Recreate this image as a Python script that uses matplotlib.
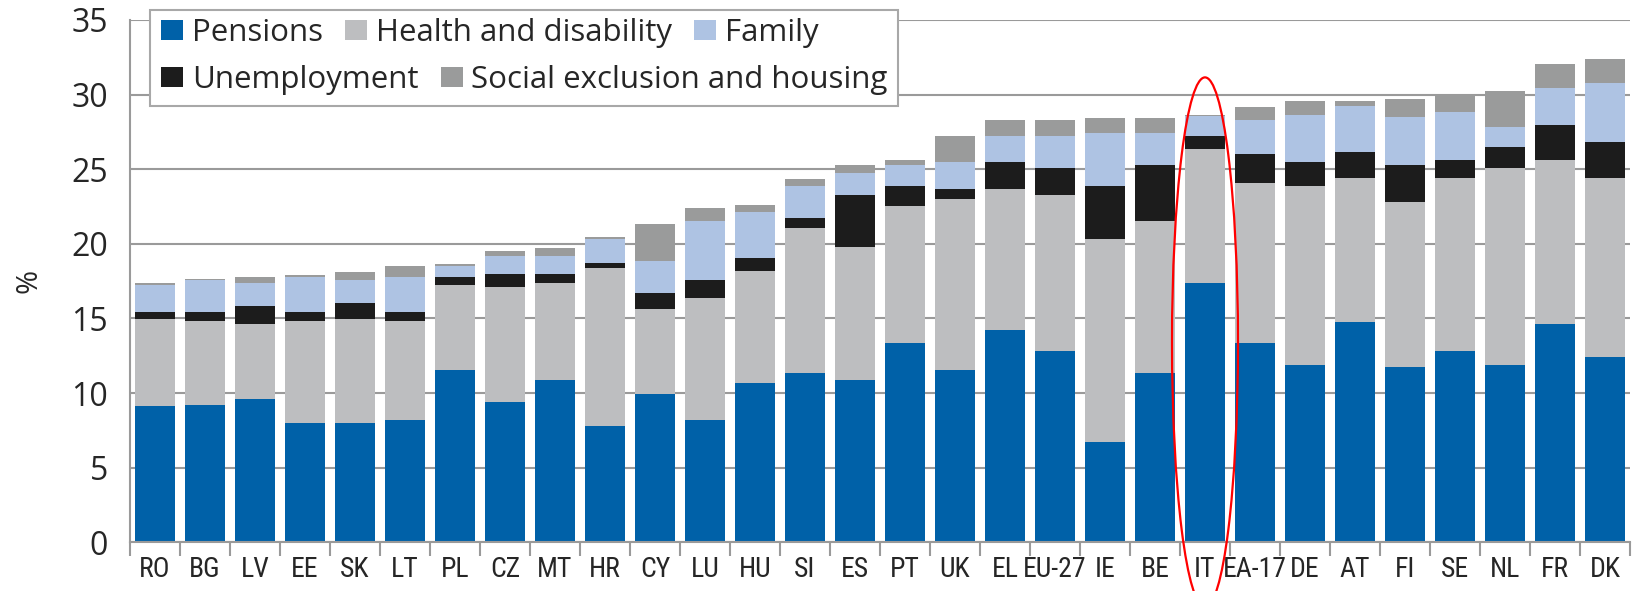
import numpy as np
import matplotlib
matplotlib.use("Agg")
import matplotlib.pyplot as plt
import matplotlib.patches as mpatches
from matplotlib import font_manager as fm

# ---- data (% of GDP) ----
countries = ["RO", "BG", "LV", "EE", "SK", "LT", "PL", "CZ", "MT", "HR",
             "CY", "LU", "HU", "SI", "ES", "PT", "UK", "EL", "EU-27", "IE",
             "BE", "IT", "EA-17", "DE", "AT", "FI", "SE", "NL", "FR", "DK"]

pensions     = [9.1, 9.2, 9.6, 8.0, 8.0, 8.2, 11.55, 9.4, 10.85, 7.8,
                9.95, 8.2, 10.65, 11.35, 10.85, 13.35, 11.55, 14.2, 12.8, 6.75,
                11.35, 17.4, 13.35, 11.9, 14.75, 11.75, 12.8, 11.9, 14.6, 12.4]
health       = [5.85, 5.6, 5.0, 6.8, 6.95, 6.6, 5.7, 7.7, 6.55, 10.55,
                5.7, 8.15, 7.55, 9.7, 8.95, 9.15, 11.45, 9.5, 10.5, 13.55,
                10.2, 8.95, 10.7, 11.95, 9.65, 11.05, 11.6, 13.2, 11.0, 12.0]
unemployment = [0.5, 0.65, 1.2, 0.65, 1.05, 0.65, 0.5, 0.85, 0.55, 0.35,
                1.05, 1.25, 0.85, 0.65, 3.5, 1.35, 0.7, 1.75, 1.8, 3.55,
                3.7, 0.85, 1.95, 1.6, 1.75, 2.45, 1.2, 1.4, 2.35, 2.45]
family       = [1.8, 2.1, 1.6, 2.3, 1.6, 2.3, 0.75, 1.25, 1.25, 1.6,
                2.15, 3.95, 3.05, 2.15, 1.45, 1.45, 1.75, 1.75, 2.1, 3.55,
                2.15, 1.35, 2.3, 3.2, 3.05, 3.25, 3.25, 1.3, 2.5, 3.95]
social       = [0.15, 0.1, 0.35, 0.15, 0.5, 0.75, 0.15, 0.35, 0.55, 0.15,
                2.5, 0.85, 0.5, 0.5, 0.5, 0.3, 1.75, 1.1, 1.1, 1.05,
                1.05, 0.1, 0.85, 0.9, 0.35, 1.2, 1.15, 2.45, 1.6, 1.6]

series = [
    ("Pensions", pensions, "#0061a8"),
    ("Health and disability", health, "#bdbec0"),
    ("Unemployment", unemployment, "#1c1c1c"),
    ("Family", family, "#aec3e3"),
    ("Social exclusion and housing", social, "#9a9b9b"),
]

plt.rcParams["font.family"] = ["Open Sans", "DejaVu Sans"]
TXT = "#262626"
GRID = "#9a9a9a"

# narrow font for the country codes, whichever is installed
names = {f.name for f in fm.fontManager.ttflist}
if "Roboto Condensed" in names:
    xlab_font = dict(family="Roboto Condensed", fontsize=20)
elif "Liberation Sans Narrow" in names:
    xlab_font = dict(family="Liberation Sans Narrow", fontsize=20)
elif "Roboto" in names:
    xlab_font = dict(family="Roboto", fontsize=17)
else:
    xlab_font = dict(family="Liberation Sans", fontsize=16)

fig = plt.figure(figsize=(16.36, 5.91), dpi=100)
ax = fig.add_axes([0.07946, 0.0824, 0.91687, 0.8839])

x = np.arange(len(countries))
bottom = np.zeros(len(countries))
handles = {}
for name, vals, col in series:
    vals = np.array(vals)
    b = ax.bar(x, vals, width=0.8, bottom=bottom, color=col, label=name,
               linewidth=0, zorder=2)
    handles[name] = b
    bottom += vals

ax.set_xlim(-0.5, len(countries) - 0.5)
ax.set_ylim(0, 35)
ax.set_yticks(np.arange(0, 36, 5))
ax.yaxis.grid(True, color=GRID, linewidth=1.5, zorder=0)
ax.set_axisbelow(True)

for s in ["top", "right"]:
    ax.spines[s].set_visible(False)
for s in ["left", "bottom"]:
    ax.spines[s].set_color(GRID)
    ax.spines[s].set_linewidth(1.5)

ax.tick_params(axis="y", length=0, pad=16, labelsize=23, labelcolor=TXT)
ax.set_xticks(x)
ax.set_xticklabels(countries, color=TXT, **xlab_font)
ax.tick_params(axis="x", which="major", length=0, pad=10)
ax.set_xticks(np.arange(-0.5, len(countries), 1), minor=True)
ax.tick_params(axis="x", which="minor", length=10, width=1.5, color=GRID, direction="out")

ax.set_ylabel("%", fontsize=21, color=TXT, labelpad=20)

# legend: two flowing rows inside one framed box
frame = mpatches.Rectangle((0.0133, 0.8361), 0.4985, 0.1838, transform=ax.transAxes,
                           facecolor="white", edgecolor="#a8a8a8", linewidth=1.5,
                           clip_on=False, zorder=4)
ax.add_patch(frame)
leg_kw = dict(frameon=False, fontsize=22.5, handlelength=0.7, handleheight=0.62,
              handletextpad=0.28, columnspacing=0.72, borderaxespad=0, borderpad=0,
              labelcolor=TXT, loc="center left")
row1 = ["Pensions", "Health and disability", "Family"]
row2 = ["Unemployment", "Social exclusion and housing"]
leg1 = ax.legend([handles[n] for n in row1], row1, ncol=3,
                 bbox_to_anchor=(0.0207, 0.975), **leg_kw)
ax.add_artist(leg1)
leg2 = ax.legend([handles[n] for n in row2], row2, ncol=2,
                 bbox_to_anchor=(0.0207, 0.885), **leg_kw)
leg1.set_zorder(5)
leg2.set_zorder(5)

# red ellipse highlighting Italy
it = countries.index("IT")
ax.add_patch(mpatches.Ellipse((it, 13.4), 1.32, 35.5, fill=False, edgecolor="red",
                              linewidth=1.6, clip_on=False, zorder=6))

fig.savefig("out.png", dpi=100)
